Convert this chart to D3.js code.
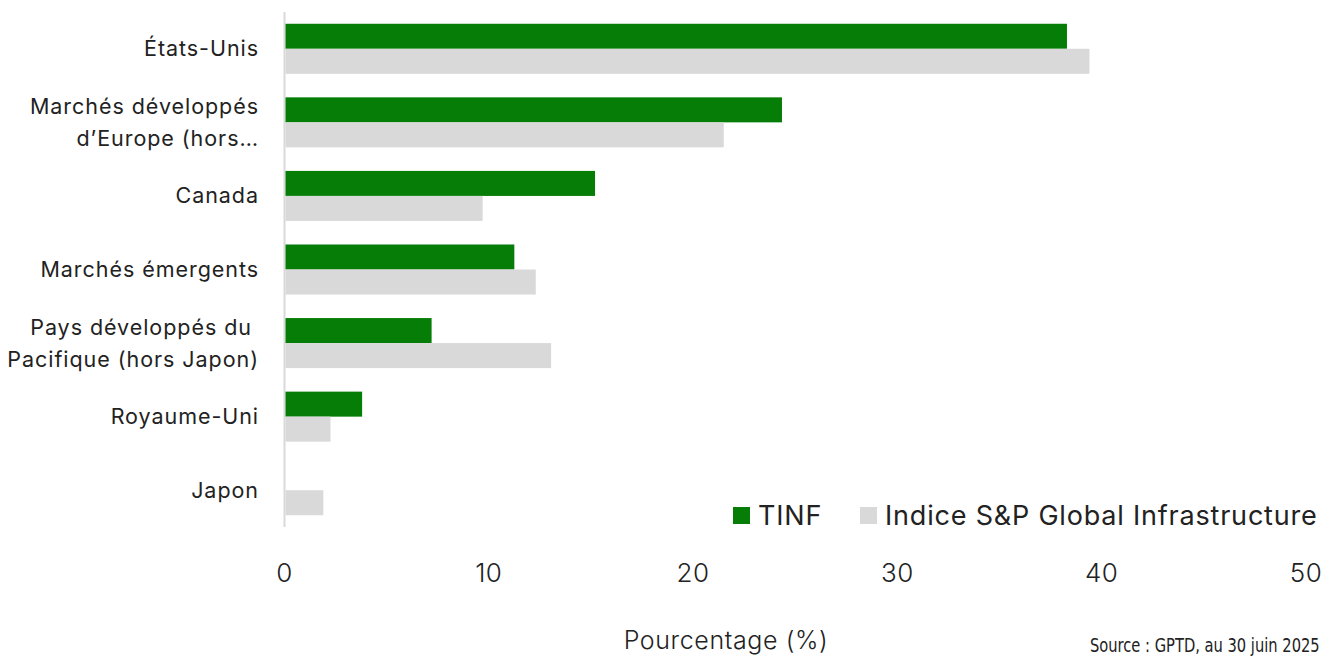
<!DOCTYPE html>
<html><head><meta charset="utf-8">
<script src="https://cdn.jsdelivr.net/npm/d3@7"></script>
<style>
body{margin:0;background:#fff;}
svg{display:block;font-family:Inter, "Open Sans", sans-serif;}
</style></head>
<body>
<svg id="c" width="1327" height="656"></svg>
<script>
const categories = ["États-Unis", "Marchés développés\nd’Europe (hors…", "Canada", "Marchés émergents", "Pays développés du \nPacifique (hors Japon)", "Royaume-Uni", "Japon"];
const seriesNames = ["TINF", "Indice S&P Global Infrastructure"];
const tinf = [38.3, 24.35, 15.2, 11.25, 7.2, 3.8, 0];
const spgi = [39.4, 21.5, 9.7, 12.3, 13.05, 2.25, 1.9];
const ticks = [0, 10, 20, 30, 40, 50];
const colors = ["#067d06", "#d9d9d9"];

const svg = d3.select("#c");
const x = d3.scaleLinear().domain([0, 50]).range([284.5, 1306]);
const y = d3.scaleBand().domain(categories).range([12, 527]).paddingInner(0.32).paddingOuter(0.16);
const sub = d3.scaleBand().domain(seriesNames).range([0, y.bandwidth()]);

const data = categories.map((c, i) => ({c, vals: [tinf[i], spgi[i]]}));

svg.append("line").attr("x1", x(0)).attr("x2", x(0)).attr("y1", 12).attr("y2", 527)
  .attr("stroke", "#d9d9d9").attr("stroke-width", 2);

const g = svg.append("g");
data.forEach(d => {
  d.vals.forEach((v, j) => {
    if (v <= 0) return;
    g.append("rect").attr("x", x(0) + 1).attr("y", y(d.c) + sub(seriesNames[j]))
      .attr("width", x(v) - x(0) - 1).attr("height", sub.bandwidth())
      .attr("fill", colors[j]);
  });
});

categories.forEach(c => {
  const lines = c.split("\n");
  const cy = y(c) + y.bandwidth() / 2;
  const lh = 32;
  const t = svg.append("text").attr("x", 259).attr("text-anchor", "end")
    .attr("font-size", 21.5).attr("letter-spacing", 0.95).attr("fill", "#222").attr("xml:space", "preserve");
  lines.forEach((l, k) => {
    t.append("tspan").attr("x", 259)
      .attr("y", cy + (k - (lines.length - 1) / 2) * lh)
      .attr("dy", "0.35em").text(l);
  });
});

const xa = svg.append("g");
ticks.forEach(tk => {
  xa.append("text").attr("x", x(tk)).attr("y", 573).attr("dy", "0.35em")
    .attr("text-anchor", "middle").attr("font-size", 26).attr("font-weight", 300)
    .attr("letter-spacing", 0.5).attr("fill", "#222").text(tk);
});

svg.append("text").attr("x", 726).attr("y", 640).attr("dy", "0.35em")
  .attr("text-anchor", "middle").attr("font-size", 25).attr("font-weight", 300)
  .attr("letter-spacing", 0.6).attr("fill", "#222").text("Pourcentage (%)");

svg.append("text").attr("x", 1090).attr("y", 645).attr("dy", "0.35em")
  .attr("font-size", 19).attr("fill", "#222")
  .style("font-family", "'Liberation Sans Narrow', 'Arial Narrow', 'DejaVu Sans Condensed', sans-serif")
  .attr("transform", "translate(1090,0) scale(0.86,1) translate(-1090,0)")
  .text("Source : GPTD, au 30 juin 2025");

const legX = [733, 860];
seriesNames.forEach((s, j) => {
  svg.append("rect").attr("x", legX[j]).attr("y", 507).attr("width", 17).attr("height", 17).attr("fill", colors[j]);
  svg.append("text").attr("x", legX[j] + 25).attr("y", 516).attr("dy", "0.35em")
    .attr("font-size", 27).attr("letter-spacing", 0.8).attr("fill", "#222").text(s);
});
</script>
</body></html>
